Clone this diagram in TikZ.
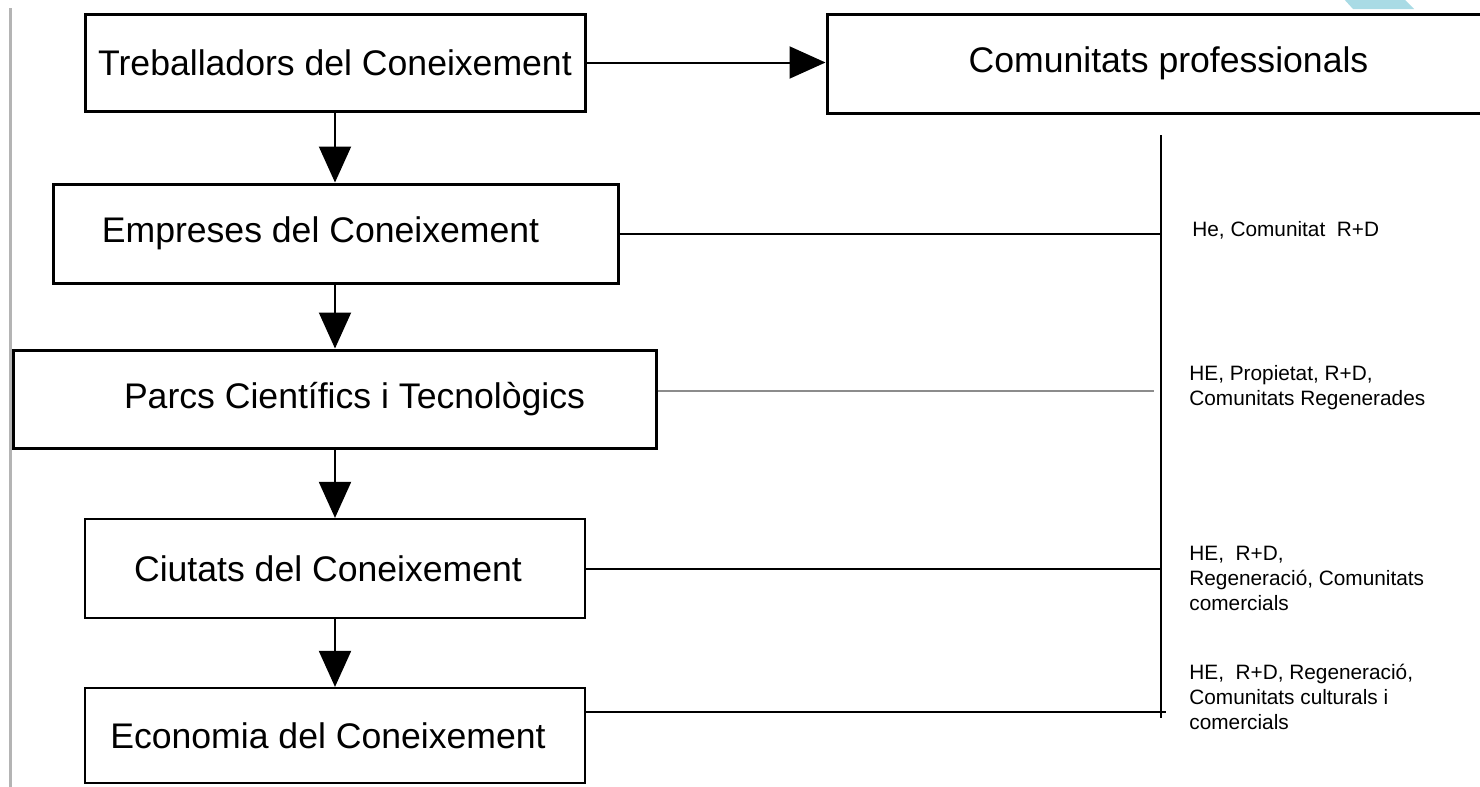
\documentclass[tikz,border=0pt]{standalone}
\usepackage{fontspec}
\setmainfont{Liberation Sans}
\usetikzlibrary{arrows.meta}
\definecolor{decoblue}{HTML}{A9DBE5}
\definecolor{railgray}{HTML}{B4B4B4}
\begin{document}
\begin{tikzpicture}[x=0.5pt,y=-0.5pt,
  box/.style={draw=black, line width=1.5pt, fill=white, inner sep=0pt,
    font=\fontsize{17.8}{20}\selectfont},
  thinbox/.style={box, line width=1.1pt},
  conn/.style={line width=1pt},
  arr/.style={line width=1pt, -{Triangle[length=18pt,width=16pt]}},
  lbl/.style={anchor=base west, align=left, inner sep=0pt,
    font=\fontsize{10.4}{12.5}\selectfont}]
\useasboundingbox (0,0) rectangle (1480,787);
\fill[white] (0,0) rectangle (1480,787);
% left rail
\coordinate (railtop) at (10,8);
\coordinate (railbot) at (10,790);
\draw[railgray, line width=1.5pt] (railtop) -- (railbot);
% decorative blue fragment
\fill[decoblue] (1343,-2) -- (1403,-2) -- (1414,9) -- (1353,9) -- cycle;
% boxes
\node[box, minimum width=250pt, minimum height=48.5pt] (b1) at (335,62.5) {Treballadors del Coneixement};
\node[box, minimum width=341.5pt, minimum height=49.5pt] (cp) at (1168.5,63.5) {Comunitats professionals};
\node[box, minimum width=282.5pt, minimum height=49.5pt] (b2) at (335.5,233.5) {Empreses del Coneixement\hspace*{15pt}};
\node[box, minimum width=321.5pt, minimum height=49pt] (b3) at (334.5,399) {\hspace*{20pt}Parcs Científics i Tecnològics};
\node[thinbox, minimum width=250pt, minimum height=49.5pt] (b4) at (335,568.5) {Ciutats del Coneixement\hspace*{7pt}};
\node[thinbox, minimum width=250pt, minimum height=47.5pt] (b5) at (335,735.5) {Economia del Coneixement\hspace*{7pt}};
% arrows
\draw[arr] (b1.east) -- (b1.east -| cp.west);
\draw[arr] (b1.south) -- (b1.south |- b2.north);
\draw[arr] (b1.south |- b2.south) -- (b1.south |- b3.north);
\draw[arr] (b1.south |- b3.south) -- (b1.south |- b4.north);
\draw[arr] (b1.south |- b4.south) -- (b1.south |- b5.north);
% bus
\coordinate (vt) at (1161,135);
\coordinate (vb) at (1161,718);
\coordinate (g3) at (1154,391);
\coordinate (c5) at (1166,712);
\draw[conn] (vt) -- (vb);
\draw[conn] (b2.east) -- (b2.east -| vt);
\draw[line width=0.8pt, black!45] (b3.east |- g3) -- (g3);
\draw[conn] (b4.east) -- (b4.east -| vt);
\draw[conn] (b5.east |- c5) -- (c5);
% labels (anchored at the baseline of their last line)
\node[lbl] (l1) at (1192,236) {He, Comunitat\ \ R+D};
\node[lbl] (l2) at (1189,405) {HE, Propietat, R+D,\\Comunitats Regenerades};
\node[lbl] (l3) at (1189,610) {HE,\ \ R+D,\\Regeneració, Comunitats\\comercials};
\node[lbl] (l4) at (1189,729) {HE,\ \ R+D, Regeneració,\\Comunitats culturals i\\comercials};
\end{tikzpicture}
\end{document}
